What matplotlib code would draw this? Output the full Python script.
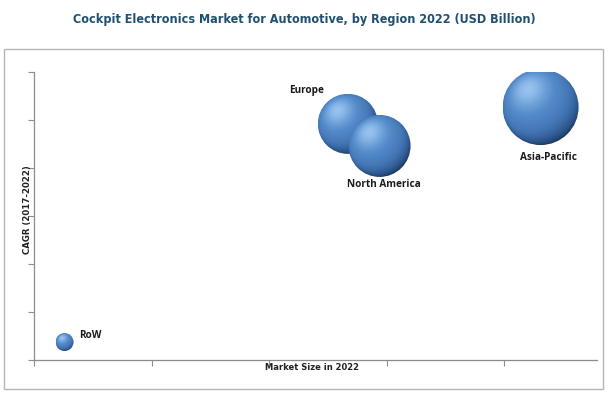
import numpy as np
import matplotlib
matplotlib.use("Agg")
import matplotlib.pyplot as plt
from matplotlib.patches import Rectangle, Ellipse
from matplotlib.colors import LinearSegmentedColormap, to_rgb

# data (axis units = tick steps)
regions = ["RoW", "Europe", "North America", "Asia-Pacific"]
market_size = [0.26, 2.67, 2.94, 4.31]
cagr = [0.375, 4.92, 4.46, 5.27]
bubble_value = [81, 900, 961, 1444]   # relative bubble area

fig = plt.figure(figsize=(6.09, 3.97), dpi=100)
ax = fig.add_axes([34/609, 1-360/397, (597-34)/609, (360-72)/397])
xlim, ylim = (0, 4.79), (0, 6)
ax.set_xlim(*xlim)
ax.set_ylim(*ylim)
ax.set_xticks(range(5))
ax.set_yticks(range(7))
ax.tick_params(length=4, color="#8c8c8c", labelbottom=False, labelleft=False)
for s in ["top", "right"]:
    ax.spines[s].set_visible(False)
for s in ["left", "bottom"]:
    ax.spines[s].set_color("#8c8c8c")
    ax.spines[s].set_linewidth(0.9)

#sphere shading with simple lighting model
cmap = LinearSegmentedColormap.from_list(
    "sphere", [(0, "#14253e"), (0.3, "#284f83"), (0.6, "#4274b2"),
               (0.85, "#5289c8"), (1, "#6fa2dc")])
L = np.array([-0.35, 0.45, 0.82])
L = L / np.linalg.norm(L)
g = np.linspace(-1, 1, 200)
gx, gy = np.meshgrid(g, -g)
nz = np.sqrt(np.clip(1 - gx**2 - gy**2, 0, None))
I = gx*L[0] + gy*L[1] + nz*L[2]
rgb = cmap(np.clip((I + 0.6) / 1.6, 0, 1))[..., :3]
spec = np.clip(I, 0, 1)**14 * 0.65
rgb = rgb*(1 - spec[..., None]) + np.array(to_rgb("#aed4f8"))*spec[..., None]

px_x = ax.get_position().width * fig.get_figwidth() * fig.dpi / (xlim[1] - xlim[0])
px_y = ax.get_position().height * fig.get_figheight() * fig.dpi / (ylim[1] - ylim[0])
for i in range(len(regions)):
    r_px = np.sqrt(bubble_value[i])
    rx, ry = r_px / px_x, r_px / px_y
    x, y = market_size[i], cagr[i]
    clip = Ellipse((x, y), 2*rx, 2*ry, transform=ax.transData, facecolor="none", edgecolor="none")
    ax.add_patch(clip)
    im = ax.imshow(rgb, extent=[x-rx, x+rx, y-ry, y+ry], aspect="auto",
                   interpolation="bilinear", zorder=3 + i*0.1)
    im.set_clip_path(clip)
ax.set_xlim(*xlim)
ax.set_ylim(*ylim)

#labels
label_offsets = {"RoW": (15, 6, "left"), "Europe": (-41, 33, "center"),
                 "North America": (4, -39, "center"), "Asia-Pacific": (8, -50, "center")}
for i, name in enumerate(regions):
    ox, oy, ha = label_offsets[name]
    ax.annotate(name, (market_size[i], cagr[i]), xytext=(ox*72/100, oy*72/100),
                textcoords="offset points", ha=ha, va="center", fontsize=7.2,
                fontweight="bold", color="#1a1a1a", zorder=10,
                family=["Open Sans", "DejaVu Sans"])

fig.text(28/609, 1-210/397, "CAGR (2017-2022)", rotation=90, ha="center", va="center",
         fontsize=6.2, fontweight="bold", color="#222222")
fig.text(312/609, 1-368/397, "Market Size in 2022", ha="center", va="center",
         fontsize=6.0, fontweight="bold", color="#222222")

fig.text(304/609, 1-20/397, "Cockpit Electronics Market for Automotive, by Region 2022 (USD Billion)",
         ha="center", va="center", fontsize=9.0, fontweight="bold", color="#1f5070",
         fontstretch="condensed", family=["DejaVu Sans"])

fig.patches.append(Rectangle((4/609, 1-389/397), (603-4)/609, (389-49)/397,
                             transform=fig.transFigure, fill=False,
                             edgecolor="#b5b5b5", linewidth=1, zorder=0))

fig.savefig("out.png", dpi=100)
